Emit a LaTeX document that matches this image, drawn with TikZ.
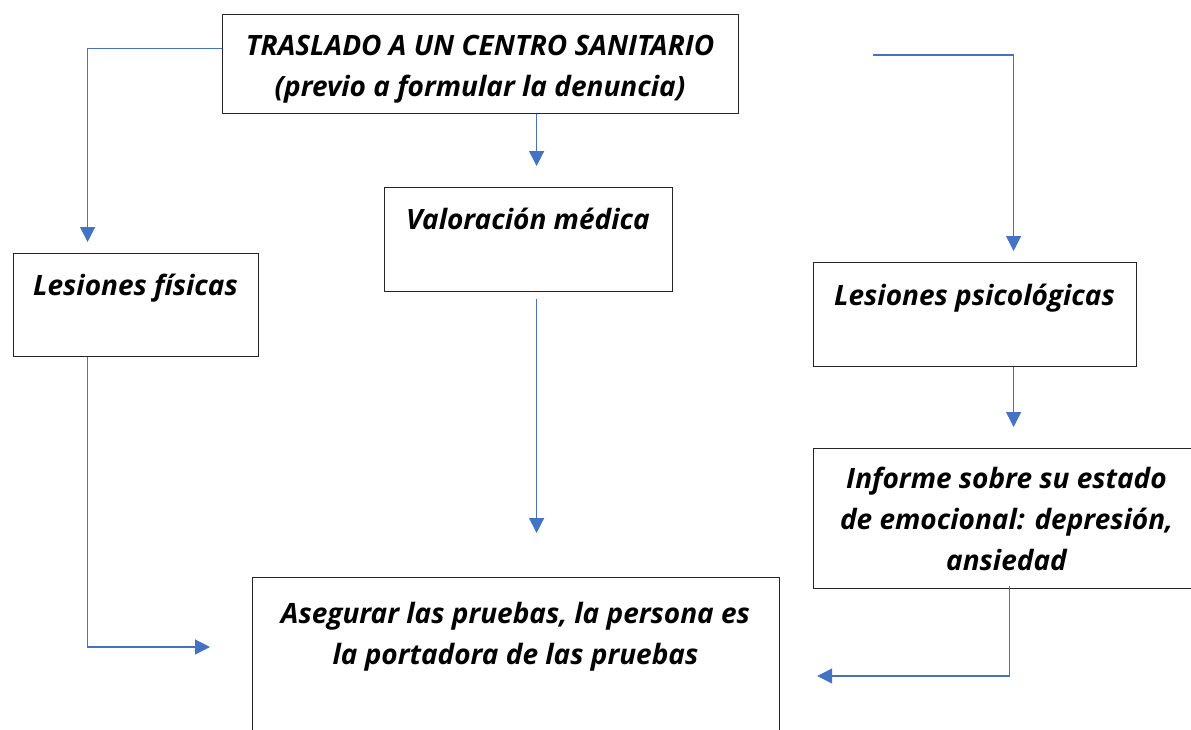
\documentclass[tikz,border=0pt]{standalone}
\usepackage{fontspec}
\setmainfont{Open Sans}
\usetikzlibrary{arrows.meta}
\definecolor{arrblue}{HTML}{4472C4}
\begin{document}
\begin{tikzpicture}[x=1pt,y=-1pt]
\tikzset{base/.style={draw=black!85,line width=1.2pt,inner sep=0pt,anchor=north west},
txt/.style={font=\fontsize{28}{41}\selectfont\bfseries\itshape,align=center,anchor=base,inner sep=0pt},
flow/.style={draw=arrblue,line width=1.3pt,-{Triangle[length=15pt,width=15pt]}}}
\useasboundingbox (0,0) rectangle (1191,729);
% boxes
\node[base,minimum width=516pt,minimum height=99pt] at (222,14) (TRAS) {};
\node[base,minimum width=288pt,minimum height=104pt] at (384,187) (VAL) {};
\node[base,minimum width=245pt,minimum height=103pt] at (13,253) (LF) {};
\node[base,minimum width=323pt,minimum height=104pt] at (813,262) (LP) {};
\node[base,minimum width=387pt,minimum height=140pt] at (813,448) (INF) {};
\node[base,minimum width=527pt,minimum height=183pt] at (252,577) (ASE) {};
% texts (base = last line)
\node[txt] at (480,96) (TRAStxt) {TRASLADO A UN CENTRO SANITARIO\\(previo a formular la denuncia)};
\node[txt] at (528,229) (VALtxt) {Valoración médica};
\node[txt] at (135.5,295) (LFtxt) {Lesiones físicas};
\node[txt] at (974.5,305) (LPtxt) {Lesiones psicológicas};
\node[txt] at (1006.5,570) (INFtxt) {Informe sobre su estado\\de emocional: depresión,\\ansiedad};
\node[txt] at (515.5,664) (ASEtxt) {Asegurar las pruebas, la persona es\\la portadora de las pruebas};
% arrows
\coordinate (psyin) at (873,55);
\draw[flow] ([yshift=15.5pt]TRAS.west) -| ([xshift=-48.5pt,yshift=11pt]LF.north);
\draw[flow] ([xshift=56pt]TRAS.south) -- ([xshift=8pt,yshift=21pt]VAL.north);
\draw[flow] (psyin) -| ([xshift=38.5pt,yshift=11pt]LP.north);
\draw[flow] ([xshift=8pt,yshift=-7pt]VAL.south) -- ([xshift=20.5pt,yshift=44pt]ASE.north);
\draw[flow] ([xshift=-48.5pt]LF.south) |- ([xshift=-42pt,yshift=-70pt]ASE.north west);
\draw[flow] ([xshift=38.5pt]LP.south) -- ([xshift=6.5pt,yshift=21pt]INF.north);
\draw[flow] ([xshift=2.5pt,yshift=3pt]INF.south) |- ([xshift=37pt,yshift=-99pt]ASE.north east);
\end{tikzpicture}
\end{document}
